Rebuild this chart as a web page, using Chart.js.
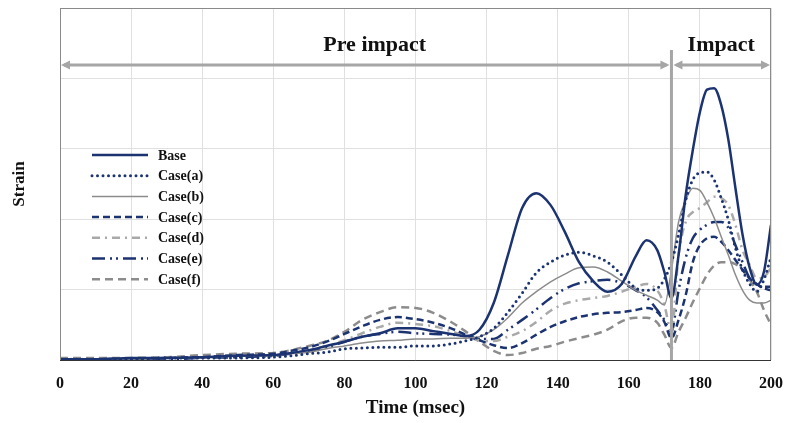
<!DOCTYPE html>
<html>
<head>
<meta charset="utf-8">
<script src="https://cdn.jsdelivr.net/npm/chart.js@4.4.1/dist/chart.umd.min.js"></script>
<style>
  html, body { margin: 0; padding: 0; background: #fff; }
  #wrap { width: 787px; height: 423px; }
</style>
</head>
<body>
<div id="wrap"><canvas id="strainChart" width="787" height="423"></canvas></div>
<script>
const times = [0, 10, 20, 30, 40, 50, 60, 65, 70, 75, 80, 85, 90, 95, 100, 105, 110, 114, 118, 122, 126, 130, 134, 138, 142, 146, 150, 154, 158, 162, 165, 168, 170, 172, 174, 176, 178, 180, 182, 184, 186, 188, 190, 192, 194, 196, 198, 200];

const base  = [0.01, 0.01, 0.03, 0.03, 0.04, 0.06, 0.07, 0.10, 0.14, 0.20, 0.26, 0.33, 0.38, 0.45, 0.45, 0.41, 0.37, 0.34, 0.43, 0.81, 1.49, 2.16, 2.37, 2.20, 1.82, 1.39, 1.12, 0.97, 1.08, 1.48, 1.70, 1.56, 1.25, 0.88, 1.49, 2.34, 2.98, 3.52, 3.84, 3.86, 3.62, 3.13, 2.44, 1.78, 1.31, 1.07, 1.25, 1.92];
const caseA = [0.01, 0.01, 0.01, 0.03, 0.03, 0.03, 0.04, 0.06, 0.09, 0.11, 0.16, 0.17, 0.18, 0.18, 0.20, 0.20, 0.23, 0.27, 0.33, 0.45, 0.68, 0.95, 1.24, 1.39, 1.49, 1.53, 1.48, 1.39, 1.21, 1.02, 0.99, 1.02, 1.15, 1.39, 1.78, 2.27, 2.56, 2.66, 2.67, 2.56, 2.30, 1.99, 1.59, 1.28, 1.08, 0.97, 1.14, 1.46];
const caseB = [0.01, 0.01, 0.01, 0.03, 0.03, 0.06, 0.06, 0.09, 0.11, 0.16, 0.20, 0.24, 0.27, 0.28, 0.30, 0.30, 0.31, 0.31, 0.33, 0.43, 0.60, 0.81, 0.97, 1.11, 1.22, 1.31, 1.32, 1.25, 1.12, 0.99, 0.92, 0.85, 0.78, 1.28, 1.96, 2.27, 2.44, 2.41, 2.24, 2.02, 1.75, 1.49, 1.21, 0.99, 0.85, 0.81, 0.81, 0.85];
const caseC = [0.01, 0.01, 0.01, 0.03, 0.04, 0.07, 0.09, 0.13, 0.18, 0.26, 0.37, 0.48, 0.57, 0.61, 0.58, 0.53, 0.45, 0.36, 0.28, 0.21, 0.17, 0.24, 0.36, 0.47, 0.55, 0.61, 0.65, 0.67, 0.68, 0.71, 0.74, 0.68, 0.54, 0.31, 0.57, 0.92, 1.39, 1.63, 1.73, 1.75, 1.68, 1.56, 1.42, 1.28, 1.16, 1.08, 1.02, 0.99];
const caseD = [0.01, 0.01, 0.01, 0.03, 0.04, 0.06, 0.07, 0.10, 0.14, 0.20, 0.28, 0.38, 0.47, 0.53, 0.51, 0.48, 0.41, 0.34, 0.28, 0.27, 0.33, 0.41, 0.54, 0.70, 0.80, 0.85, 0.88, 0.91, 0.97, 1.04, 1.08, 0.99, 0.78, 0.40, 1.49, 1.96, 2.10, 2.16, 2.24, 2.32, 2.30, 2.20, 1.92, 1.56, 1.35, 1.16, 1.18, 1.31];
const caseE = [0.01, 0.01, 0.01, 0.01, 0.03, 0.04, 0.06, 0.09, 0.13, 0.18, 0.26, 0.33, 0.37, 0.40, 0.38, 0.37, 0.36, 0.34, 0.30, 0.30, 0.43, 0.57, 0.72, 0.88, 1.01, 1.09, 1.12, 1.14, 1.09, 0.99, 0.89, 0.71, 0.57, 0.40, 0.99, 1.45, 1.73, 1.85, 1.92, 1.96, 1.96, 1.88, 1.63, 1.39, 1.16, 1.07, 1.04, 1.04];
const caseF = [0.03, 0.03, 0.03, 0.04, 0.07, 0.09, 0.10, 0.14, 0.20, 0.27, 0.40, 0.57, 0.68, 0.75, 0.74, 0.67, 0.54, 0.41, 0.26, 0.13, 0.07, 0.10, 0.16, 0.20, 0.26, 0.31, 0.36, 0.43, 0.55, 0.60, 0.60, 0.53, 0.36, 0.17, 0.40, 0.60, 0.82, 1.02, 1.21, 1.34, 1.39, 1.39, 1.36, 1.28, 1.14, 0.97, 0.71, 0.50];

const xTicks = [0, 20, 40, 60, 80, 100, 120, 140, 160, 180, 200];
const impactTime = 172;

const NAVY = '#1c3372';
const GRAY = '#8c8c8c';
const LIGHT = '#a9a9a9';
const SERIF = "'Liberation Serif', 'Times New Roman', serif";

const series = [
  { label: 'Base',    data: base,  color: NAVY,  width: 2.5, dash: [],                 cap: 'butt' },
  { label: 'Case(a)', data: caseA, color: NAVY,  width: 3,   dash: [0, 5.5],           cap: 'round' },
  { label: 'Case(b)', data: caseB, color: GRAY,  width: 1.5, dash: [],                 cap: 'butt' },
  { label: 'Case(c)', data: caseC, color: NAVY,  width: 2.5, dash: [7, 4],             cap: 'butt' },
  { label: 'Case(d)', data: caseD, color: LIGHT, width: 2.5, dash: [8, 5, 2, 5],       cap: 'butt' },
  { label: 'Case(e)', data: caseE, color: NAVY,  width: 2.5, dash: [13, 5, 2, 4, 2, 5], cap: 'butt' },
  { label: 'Case(f)', data: caseF, color: GRAY,  width: 2.5, dash: [8, 5],             cap: 'butt' },
];

// legend drawn inside the plot, like the original
const insideLegend = {
  id: 'insideLegend',
  afterDatasetsDraw(chart) {
    const ctx = chart.ctx;
    ctx.save();
    ctx.font = 'bold 14px ' + SERIF;
    ctx.textBaseline = 'middle';
    series.forEach((s, i) => {
      const y = 155 + i * 20.7;
      ctx.beginPath();
      ctx.strokeStyle = s.color;
      ctx.lineWidth = s.width;
      ctx.lineCap = s.cap;
      ctx.setLineDash(s.dash);
      ctx.moveTo(92, y);
      ctx.lineTo(148, y);
      ctx.stroke();
      ctx.setLineDash([]);
      ctx.fillStyle = '#111';
      ctx.fillText(s.label, 158, y + 1);
    });
    ctx.restore();
  }
};

function arrowHead(ctx, x, y, dir) {
  ctx.beginPath();
  ctx.moveTo(x, y);
  ctx.lineTo(x - dir * 9, y - 4.5);
  ctx.lineTo(x - dir * 9, y + 4.5);
  ctx.closePath();
  ctx.fill();
}

const impactMarks = {
  id: 'impactMarks',
  afterDraw(chart) {
    const { ctx, chartArea: a, scales } = chart;
    const xi = scales.x.getPixelForValue(impactTime);
    const ay = 65;
    ctx.save();
    // plot frame
    ctx.strokeStyle = '#8a8a8a';
    ctx.lineWidth = 1;
    ctx.strokeRect(a.left + 0.5, a.top + 0.5, a.right - a.left - 1, a.bottom - a.top);
    ctx.strokeStyle = '#333';
    ctx.beginPath();
    ctx.moveTo(a.left, a.bottom + 0.5);
    ctx.lineTo(a.right, a.bottom + 0.5);
    ctx.stroke();

    ctx.strokeStyle = '#a6a6a6';
    ctx.fillStyle = '#a6a6a6';
    ctx.lineWidth = 3;
    ctx.beginPath();
    ctx.moveTo(xi, 50);
    ctx.lineTo(xi, a.bottom);
    ctx.stroke();

    ctx.beginPath();
    ctx.moveTo(a.left + 4, ay);
    ctx.lineTo(xi - 5, ay);
    ctx.moveTo(xi + 5, ay);
    ctx.lineTo(a.right - 4, ay);
    ctx.stroke();
    arrowHead(ctx, a.left + 1, ay, -1);
    arrowHead(ctx, xi - 2, ay, 1);
    arrowHead(ctx, xi + 2, ay, -1);
    arrowHead(ctx, a.right - 1, ay, 1);

    ctx.fillStyle = '#111';
    ctx.font = 'bold 22px ' + SERIF;
    ctx.textAlign = 'center';
    ctx.textBaseline = 'middle';
    ctx.fillText('Pre impact', (a.left + xi) / 2 + 9, 45);
    ctx.fillText('Impact', (xi + a.right) / 2, 45);
    ctx.restore();
  }
};

new Chart(document.getElementById('strainChart'), {
  type: 'line',
  data: {
    labels: times,
    datasets: series.map(s => ({
      label: s.label,
      data: s.data.map((v, i) => ({ x: times[i], y: v })),
      borderColor: s.color,
      borderWidth: s.width,
      borderDash: s.dash,
      borderCapStyle: s.cap,
      pointRadius: 0,
      fill: false,
      cubicInterpolationMode: 'monotone',
    })),
  },
  options: {
    responsive: false,
    animation: false,
    layout: { padding: { top: 8, right: 16, left: 5, bottom: 0 } },
    plugins: { legend: { display: false }, tooltip: { enabled: false } },
    scales: {
      x: {
        type: 'linear',
        min: 0,
        max: 200,
        afterBuildTicks(scale) { scale.ticks = xTicks.map(v => ({ value: v })); },
        afterFit(scale) {
          scale.height = 63;
          scale.paddingLeft = 0;
          scale.paddingRight = 0;
        },
        grid: { color: '#e0e0e0', drawTicks: false },
        border: { display: false },
        ticks: { color: '#111', padding: 14, maxRotation: 0, font: { family: SERIF, size: 16, weight: 'bold' } },
        title: { display: true, text: 'Time (msec)', color: '#111', padding: { top: 3 }, font: { family: SERIF, size: 19, weight: 'bold' } },
      },
      y: {
        min: 0,
        max: 5,
        afterFit(scale) { scale.width = 55; },
        grid: { color: '#e0e0e0', drawTicks: false },
        border: { display: false },
        ticks: { display: false, stepSize: 1 },
        title: { display: true, text: 'Strain', color: '#111', padding: { bottom: 18 }, font: { family: SERIF, size: 17, weight: 'bold' } },
      },
    },
  },
  plugins: [insideLegend, impactMarks],
});
</script>
</body>
</html>
